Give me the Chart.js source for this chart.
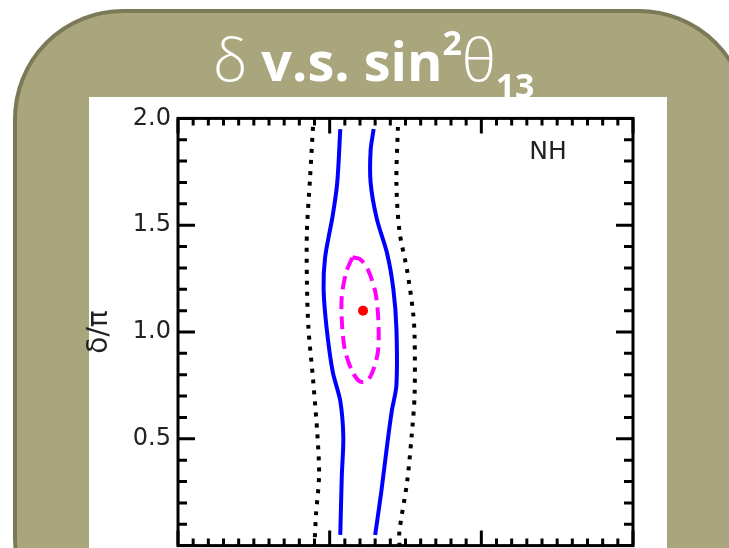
<!DOCTYPE html>
<html>
<head>
<meta charset="utf-8">
<script src="https://cdn.jsdelivr.net/npm/chart.js@4"></script>
<style>
html, body { margin:0; padding:0; width:729px; height:548px; overflow:hidden; background:#fff; }
#slide { position:absolute; left:13px; top:9px; width:736px; height:640px; box-sizing:border-box;
  background:#a9a57c; border:4px solid #7c7958; border-radius:110px; }
#panel { position:absolute; left:89px; top:97px; width:578px; height:470px; background:#fff; }
#title { position:absolute; left:213px; top:33px; font-family:"Open Sans", sans-serif; font-weight:700;
  font-size:54px; line-height:54px; color:#fff; white-space:nowrap; }
#title .gr { font-weight:300; font-size:59px; line-height:0; }
#title .sup { font-size:34px; vertical-align:26px; line-height:0; }
#title .sub { font-size:34px; vertical-align:-17px; line-height:0; }
#wrap { position:absolute; left:80px; top:97px; width:586px; height:470px; }
</style>
</head>
<body>
<div id="slide"></div>
<div id="panel"></div>
<div id="wrap"><canvas id="c"></canvas></div>
<div id="title"><span class="gr">δ</span> v.s. sin<span class="sup">2</span><span class="gr">θ</span><span class="sub">13</span></div>
<script>
// curves: x = sin^2(theta13), y = delta/pi
const dotLeftX = [0.0189, 0.0187, 0.0185, 0.0185, 0.0186, 0.0189, 0.0192, 0.0193, 0.0191, 0.0190];
const dotLeftY = [1.96, 1.714, 1.473, 1.236, 1.018, 0.782, 0.509, 0.327, 0.145, 0.0];

const dotRightX = [0.0245, 0.0244, 0.0246, 0.0251, 0.0255, 0.0256, 0.0256, 0.0254, 0.0251, 0.0246, 0.0246];
const dotRightY = [1.96, 1.70, 1.473, 1.291, 1.091, 0.977, 0.705, 0.509, 0.295, 0.068, 0.0];

const blueLeftX = [0.0207, 0.0205, 0.0202, 0.0197, 0.0196, 0.0198, 0.0202, 0.0207, 0.0209, 0.0208, 0.0207];
const blueLeftY = [1.95, 1.70, 1.545, 1.35, 1.20, 1.018, 0.814, 0.677, 0.509, 0.327, 0.05];

const blueRightX = [0.0229, 0.0227, 0.0227, 0.0231, 0.0238, 0.0242, 0.0244, 0.0244, 0.0241, 0.0238, 0.0234, 0.0230];
const blueRightY = [1.95, 1.85, 1.70, 1.532, 1.364, 1.20, 1.018, 0.75, 0.632, 0.477, 0.25, 0.05];

const ellX = [0.0215, 0.0220, 0.0225, 0.0230, 0.0232, 0.0232, 0.0229, 0.0225, 0.0220, 0.0215, 0.0210, 0.0208, 0.0208, 0.0211, 0.0215];
const ellY = [1.35, 1.341, 1.295, 1.191, 1.068, 0.918, 0.827, 0.773, 0.768, 0.814, 0.918, 1.055, 1.168, 1.282, 1.35];

const bestX = [0.0222];
const bestY = [1.10];

const yTickLabels = ['0.5', '1.0', '1.5', '2.0'];

const axisFont = '"DejaVu Sans", sans-serif';

const pts = (xs, ys) => xs.map((x, i) => ({x: x, y: ys[i]}));

function lineSet(xs, ys, color, dash) {
  return {
    data: pts(xs, ys), showLine: true, borderColor: color, borderWidth: 4,
    borderDash: dash, pointRadius: 0, tension: 0.3, fill: false
  };
}

// frame with inward ticks on all four sides, plus the NH tag
const framePlugin = {
  id: 'frame',
  afterDraw(chart) {
    const {ctx, chartArea: a, scales: {x, y}} = chart;
    ctx.save();
    ctx.strokeStyle = '#000';
    ctx.lineWidth = 3;
    ctx.strokeRect(a.left, a.top, a.right - a.left, a.bottom - a.top);
    ctx.beginPath();
    x.ticks.forEach(t => {
      const px = x.getPixelForValue(t.value);
      const major = Math.abs(t.value * 100 - Math.round(t.value * 100)) < 1e-6;
      const len = major ? 15 : 7;
      ctx.moveTo(px, a.top); ctx.lineTo(px, a.top + len);
      ctx.moveTo(px, a.bottom); ctx.lineTo(px, a.bottom - len);
    });
    y.ticks.forEach(t => {
      const py = y.getPixelForValue(t.value);
      const major = Math.abs(t.value * 2 - Math.round(t.value * 2)) < 1e-6;
      const len = major ? 17 : 9;
      ctx.moveTo(a.left, py); ctx.lineTo(a.left + len, py);
      ctx.moveTo(a.right, py); ctx.lineTo(a.right - len, py);
    });
    ctx.stroke();
    ctx.fillStyle = '#222';
    ctx.font = '25px ' + axisFont;
    ctx.textAlign = 'center';
    ctx.textBaseline = 'middle';
    ctx.fillText('NH', a.right - 85, a.top + 34);
    ctx.restore();
  }
};

new Chart(document.getElementById('c'), {
  type: 'scatter',
  data: {
    datasets: [
      lineSet(dotLeftX, dotLeftY, '#000', [4, 7]),
      lineSet(dotRightX, dotRightY, '#000', [4, 7]),
      lineSet(blueLeftX, blueLeftY, '#0000ff', []),
      lineSet(blueRightX, blueRightY, '#0000ff', []),
      lineSet(ellX, ellY, '#ff00ff', [13, 7]),
      {data: pts(bestX, bestY), pointRadius: 5, pointBackgroundColor: '#ff0000', pointBorderWidth: 0, showLine: false}
    ]
  },
  options: {
    responsive: true,
    maintainAspectRatio: false,
    animation: false,
    layout: {padding: {left: 0, right: 33, top: 15, bottom: 15}},
    plugins: {legend: {display: false}, tooltip: {enabled: false}},
    scales: {
      x: {
        type: 'linear', min: 0.01, max: 0.04,
        grid: {display: false, drawTicks: false}, border: {display: false},
        ticks: {display: false, stepSize: 0.001},
        afterFit: s => { s.height = 0; }
      },
      y: {
        min: 0, max: 2,
        grid: {display: false, drawTicks: false}, border: {display: false},
        ticks: {
          stepSize: 0.1, autoSkip: false, padding: 7, color: '#222',
          font: {family: axisFont, size: 24},
          callback: v => {
            const s = v.toFixed(1);
            return yTickLabels.includes(s) ? s : '';
          }
        },
        title: {
          display: true, text: 'δ/π', color: '#222',
          font: {family: axisFont, size: 28},
          padding: {top: 3, bottom: 0}
        },
        afterFit: s => { s.width = 98; }
      }
    }
  },
  plugins: [framePlugin]
});
</script>
</body>
</html>
